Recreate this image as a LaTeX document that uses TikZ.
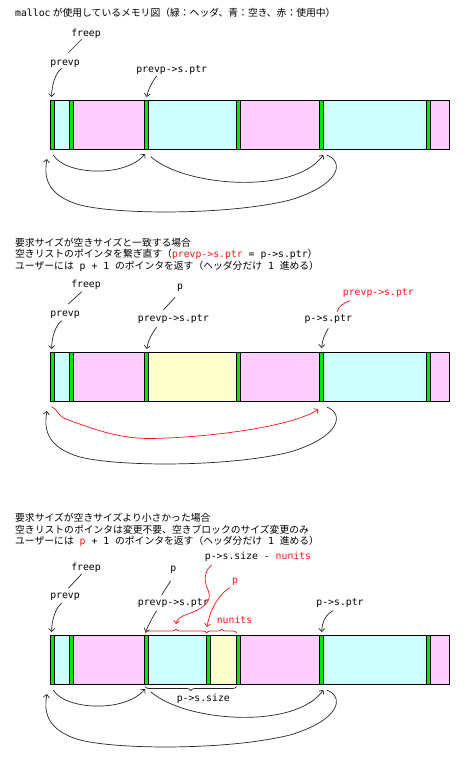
\documentclass[tikz,border=0pt]{standalone}
\usepackage{fontspec}
\setmainfont{Noto Sans CJK JP}
\setmonofont{DejaVu Sans Mono}
\usetikzlibrary{arrows.meta,decorations.pathreplacing}
\definecolor{hdrc}{RGB}{0,235,0}
\definecolor{freec}{RGB}{204,255,255}
\definecolor{usedc}{RGB}{255,204,255}
\definecolor{userc}{RGB}{255,255,204}
\definecolor{redc}{RGB}{255,20,20}
\newcommand\cc[1]{{\ttfamily #1}}
\begin{document}
\begin{tikzpicture}[x=1pt,y=-1pt,
  every node/.style={inner sep=0pt, font=\fontsize{9.8}{12}\selectfont},
  lbl/.style={font=\fontsize{9.8}{12}\selectfont\ttfamily},
  hd/.style={anchor=west},
  lnk/.style={black!85, line width=0.7pt},
  ptr/.style={lnk, -{Straight Barb[length=3pt,width=6pt]}},
  rlnk/.style={redc, line width=0.7pt},
  rptr/.style={rlnk, -{Straight Barb[length=3pt,width=6pt]}},
  hdrbox/.style={fill=hdrc, draw=black, line width=0.5pt},
  barframe/.style={draw=black, line width=0.8pt, minimum width=399pt, minimum height=49pt, anchor=north west, inner sep=0pt}
]
\fill[white] (0,0) rectangle (473,765);
\useasboundingbox (0,0) rectangle (473,765);

% ---------------- Title
\node[hd] (title) at (15,13) {\cc{malloc} が使用しているメモリ図（緑：ヘッダ、青：空き、赤：使用中）};

% ---------------- Section 1
\fill[usedc] (50,100) rectangle (449,149);
\fill[freec] (54,100) rectangle (69.3,149);
\fill[freec] (148.3,100) rectangle (236,149);
\fill[freec] (323.3,100) rectangle (426.3,149);
\foreach \x in {50,69.3,144.3,236,319.3,426.3}
  \filldraw[hdrbox] (\x,100) rectangle +(4,49);
\node[barframe] (bar1) at (50,100) {};

\node[lbl] (freep1) at (86,33.3) {freep};
\node[lbl] (prevp1) at (65,63.3) {prevp};
\node[lbl] (sptr1) at (171.7,70) {prevp->s.ptr};
\coordinate (f1a) at (81.7,39.3); \coordinate (f1b) at (68.3,52.7);
\draw[lnk] (f1a) -- (f1b);
\coordinate (pv1a) at (61.7,68.3); \coordinate (h1a) at (51.7,97);
\draw[ptr] (pv1a) .. controls (56,72) and (51.5,85) .. (h1a);
\coordinate (sp1a) at (156.7,76); \coordinate (h1c) at (146.7,97);
\draw[ptr] (sp1a) .. controls (152,82) and (148,90) .. (h1c);

% bottom links (section 1)
\coordinate (a1s) at (53.3,155); \coordinate (a1e) at (145,154);
\draw[ptr] (a1s) .. controls (65,175) and (125,178) .. (a1e);
\coordinate (b1s) at (150.7,156.7); \coordinate (b1e) at (323.3,155);
\draw[ptr] (b1s) .. controls (185,187) and (295,195) .. (b1e);
\coordinate (c1s) at (326.7,155); \coordinate (c1e) at (47,159);
\draw[ptr] (c1s) .. controls (345,162) and (340,185) .. (290,200)
  .. controls (230,215) and (120,215) .. (80,205)
  .. controls (45,195) and (44,175) .. (c1e);

% ---------------- Section 2
\node[hd] (h2a) at (15,242.3) {要求サイズが空きサイズと一致する場合};
\node[hd] (h2b) at (15,254.3) {空きリストのポインタを繋ぎ直す（\cc{\textcolor{redc}{prevp->s.ptr} = p->s.ptr}）};
\node[hd] (h2c) at (15,266) {ユーザーには\cc{ p + 1 }のポインタを返す（ヘッダ分だけ\cc{ 1 }進める）};

\fill[usedc] (50,352) rectangle (449,401);
\fill[freec] (54,352) rectangle (69.3,401);
\fill[userc] (148.3,352) rectangle (236,401);
\fill[freec] (323.3,352) rectangle (426.3,401);
\foreach \x in {50,69.3,144.3,236,319.3,426.3}
  \filldraw[hdrbox] (\x,352) rectangle +(4,49);
\node[barframe] (bar2) at (50,352) {};

\node[lbl] (freep2) at (86,284.3) {freep};
\node[lbl] (prevp2) at (65,314.3) {prevp};
\node[lbl] (p2) at (180,287.3) {p};
\node[lbl] (sptr2) at (173.3,319.3) {prevp->s.ptr};
\node[lbl, text=redc] (rsptr2) at (378.3,292.7) {prevp->s.ptr};
\node[lbl] (psptr2) at (328.3,319.3) {p->s.ptr};
\coordinate (f2a) at (81.7,291.7); \coordinate (f2b) at (68.3,304);
\draw[lnk] (f2a) -- (f2b);
\coordinate (pv2a) at (61.7,320.7); \coordinate (h2h1) at (51.7,349);
\draw[ptr] (pv2a) .. controls (56,324.5) and (51.5,337) .. (h2h1);
\coordinate (p2a) at (175,297.3); \coordinate (p2b) at (163.3,310);
\draw[lnk] (p2a) -- (p2b);
\coordinate (sp2a) at (156.7,327.3); \coordinate (h2h3) at (146.7,349);
\draw[ptr] (sp2a) .. controls (152,333) and (148,341) .. (h2h3);
\coordinate (ps2a) at (328.3,328.3); \coordinate (h2h5) at (321.7,348);
\draw[ptr] (ps2a) .. controls (325,334) and (322,340) .. (h2h5);
\coordinate (r2a) at (350,300.7); \coordinate (r2b) at (337.3,311.7);
\draw[rlnk] (r2a) .. controls (343,303) and (338,307) .. (r2b);

% bottom links (section 2)
\coordinate (r2s) at (51.7,406.7); \coordinate (r2e) at (318.3,409.3);
\draw[rptr] (r2s) .. controls (58,410) and (58,416) .. (66,419)
  .. controls (95,430) and (120,438.5) .. (150,438.5)
  .. controls (200,438) and (290,428) .. (r2e);
\coordinate (c2s) at (326.7,407); \coordinate (c2e) at (47,411);
\draw[ptr] (c2s) .. controls (345,414) and (340,437) .. (290,452)
  .. controls (230,467) and (120,467) .. (80,457)
  .. controls (45,447) and (44,427) .. (c2e);

% ---------------- Section 3
\node[hd] (h3a) at (15,517.5) {要求サイズが空きサイズより小さかった場合};
\node[hd] (h3b) at (15,529.3) {空きリストのポインタは変更不要、空きブロックのサイズ変更のみ};
\node[hd] (h3c) at (15,541) {ユーザーには\cc{ \textcolor{redc}{p} + 1 }のポインタを返す（ヘッダ分だけ\cc{ 1 }進める）};

\fill[usedc] (50,635) rectangle (449,684);
\fill[freec] (54,635) rectangle (69.3,684);
\fill[freec] (148.3,635) rectangle (206.7,684);
\fill[userc] (210.7,635) rectangle (236,684);
\fill[freec] (323.3,635) rectangle (426.3,684);
\foreach \x in {50,69.3,144.3,206.7,236,319.3,426.3}
  \filldraw[hdrbox] (\x,635) rectangle +(4,49);
\node[barframe] (bar3) at (50,635) {};

\node[lbl] (freep3) at (86,567.3) {freep};
\node[lbl] (prevp3) at (65,596.7) {prevp};
\node[lbl] (p3) at (173.3,570) {p};
\node[lbl] (sptr3) at (173.3,602.7) {prevp->s.ptr};
\node[lbl] (szn) at (258,556.7) {p->s.size - \textcolor{redc}{nunits}};
\node[lbl, text=redc] (rp3) at (235,581.7) {p};
\node[lbl, text=redc] (nun) at (234.5,620) {nunits};
\node[lbl] (psptr3) at (340,602.7) {p->s.ptr};
\node[lbl] (pss) at (203.3,698.3) {p->s.size};

\coordinate (f3a) at (81.7,574); \coordinate (f3b) at (68.3,588.3);
\draw[lnk] (f3a) -- (f3b);
\coordinate (pv3a) at (61.7,603.3); \coordinate (h3h1) at (51.7,632);
\draw[ptr] (pv3a) .. controls (56,607) and (51.5,620) .. (h3h1);
\coordinate (p3a) at (170.7,580.7); \coordinate (p3b) at (161.7,595);
\draw[lnk] (p3a) -- (p3b);
\coordinate (sp3a) at (156.7,610.7); \coordinate (h3h3) at (145.5,632);
\draw[ptr] (sp3a) .. controls (152,618) and (148,626) .. (h3h3);
\coordinate (ps3a) at (333.3,610.7); \coordinate (h3h6) at (321.7,632);
\draw[ptr] (ps3a) .. controls (326,614) and (322,622) .. (h3h6);

% red braces and pointers
\coordinate (br1a) at (145,633); \coordinate (br1b) at (206.7,633); \coordinate (br2b) at (236.7,633);
\draw[rlnk, decorate, decoration={brace, amplitude=4pt}] (br1a) -- (br1b);
\draw[rlnk, decorate, decoration={brace, amplitude=4pt}] (br1b) -- (br2b);
\coordinate (sz1) at (211.7,565); \coordinate (sz2) at (175.9,624);
\draw[rptr] (sz1) .. controls (205,570) and (203,580) .. (208,590)
  .. controls (214,602) and (200,610) .. (188,614)
  .. controls (181,616) and (177,619) .. (sz2);
\coordinate (rp3a) at (230,587.5); \coordinate (rp3b) at (206.9,627);
\draw[rptr] (rp3a) .. controls (222,592) and (211,605) .. (rp3b);

% bottom brace
\coordinate (bb1) at (145,686.5); \coordinate (bb2) at (236.7,686.5);
\draw[lnk, decorate, decoration={brace, amplitude=4pt, mirror}] (bb1) -- (bb2);

% bottom links (section 3)
\coordinate (a3s) at (53.3,690); \coordinate (a3e) at (145,689);
\draw[ptr] (a3s) .. controls (65,710) and (125,713) .. (a3e);
\coordinate (b3s) at (150.7,691.7); \coordinate (b3e) at (323.3,690);
\draw[ptr] (b3s) .. controls (185,722) and (295,730) .. (b3e);
\coordinate (c3s) at (326.7,690); \coordinate (c3e) at (47,694);
\draw[ptr] (c3s) .. controls (345,697) and (340,720) .. (290,735)
  .. controls (230,750) and (120,750) .. (80,740)
  .. controls (45,730) and (44,710) .. (c3e);
\end{tikzpicture}
\end{document}
